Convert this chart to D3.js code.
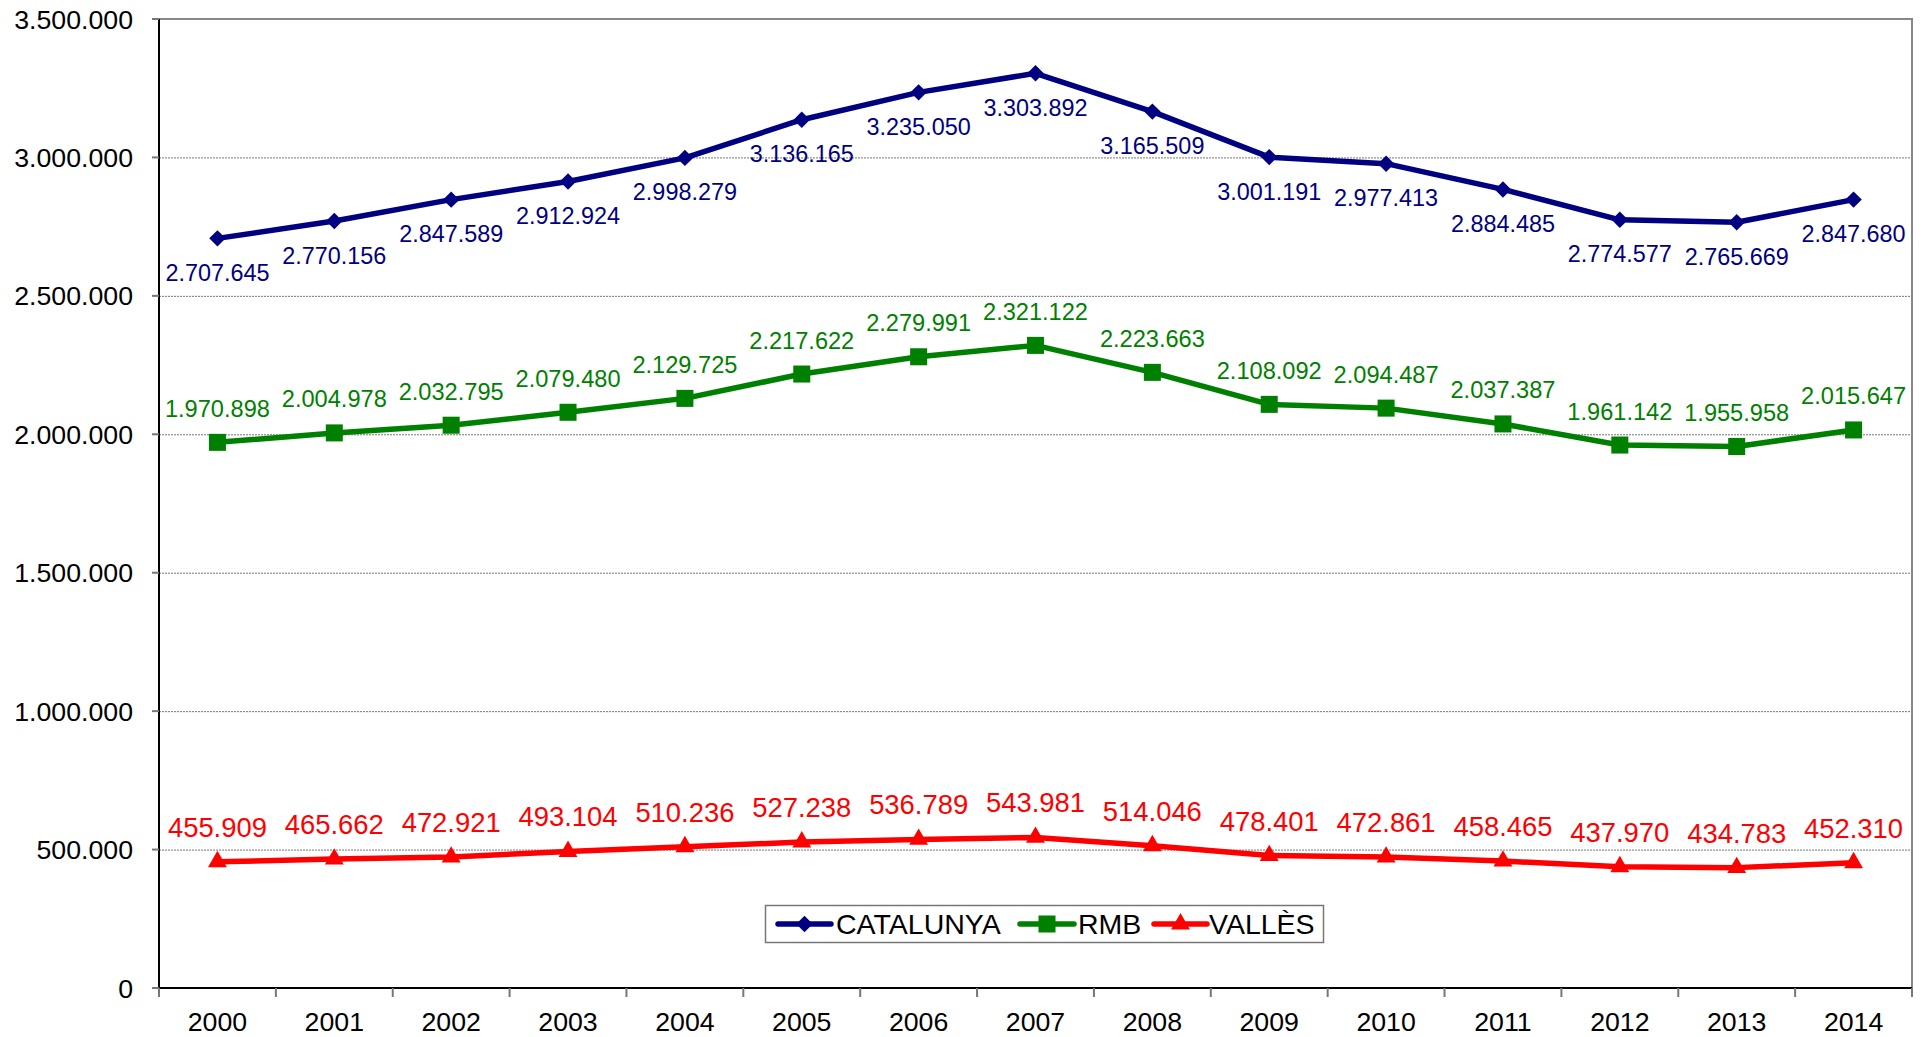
<!DOCTYPE html>
<html>
<head>
<meta charset="utf-8">
<script src="https://cdn.jsdelivr.net/npm/d3@7"></script>
<style>
  body { margin: 0; background: #fff; }
  text { font-family: "Liberation Sans", Arial, sans-serif; }
</style>
</head>
<body>
<svg id="chart" width="1928" height="1037"></svg>
<script>
const years = ["2000", "2001", "2002", "2003", "2004", "2005", "2006", "2007",
    "2008", "2009", "2010", "2011", "2012", "2013", "2014"]

const catalunya = [2707645, 2770156, 2847589, 2912924, 2998279, 3136165, 3235050, 3303892,
    3165509, 3001191, 2977413, 2884485, 2774577, 2765669, 2847680]
const rmb = [1970898, 2004978, 2032795, 2079480, 2129725, 2217622, 2279991, 2321122,
    2223663, 2108092, 2094487, 2037387, 1961142, 1955958, 2015647]
const valles = [455909, 465662, 472921, 493104, 510236, 527238, 536789, 543981,
    514046, 478401, 472861, 458465, 437970, 434783, 452310]

const yTicks = [0, 500000, 1000000, 1500000, 2000000, 2500000, 3000000, 3500000]

const seriesNames = ["CATALUNYA", "RMB", "VALLÈS"]

const series = [
    { name: seriesNames[0], values: catalunya, color: "#000080", marker: "diamond", labelDy: 42.5, labelSize: 23.4 },
    { name: seriesNames[1], values: rmb, color: "#008000", marker: "square", labelDy: -25.5, labelSize: 23.6 },
    { name: seriesNames[2], values: valles, color: "#ff0000", marker: "triangle", labelDy: -25, labelSize: 27.4 }
]

const plotLeft = 159, plotRight = 1912, plotTop = 19, plotBottom = 988

const locale = d3.formatLocale({ decimal: ",", thousands: ".", grouping: [3], currency: ["", "€"] })
const fmt = locale.format(",d")

const svg = d3.select("#chart")

const x = d3.scaleBand()
    .domain(years)
    .range([plotLeft, plotRight])

const y = d3.scaleLinear()
    .domain([0, 3500000])
    .range([plotBottom, plotTop])

// gridlines
svg.append("g")
    .selectAll("line")
    .data(yTicks.filter(d => d > 0 && d < 3500000))
    .join("line")
    .attr("x1", plotLeft).attr("x2", plotRight)
    .attr("y1", d => y(d) + 0.5).attr("y2", d => y(d) + 0.5)
    .attr("stroke", "#777")
    .attr("stroke-width", 1)
    .attr("stroke-dasharray", "2,1")

// top and right border
svg.append("path")
    .attr("d", `M${plotLeft},${plotTop} H${plotRight} V${plotBottom}`)
    .attr("fill", "none")
    .attr("stroke", "#888")
    .attr("stroke-width", 2)

// y axis
const yAxis = svg.append("g")
yAxis.append("line")
    .attr("x1", plotLeft).attr("x2", plotLeft)
    .attr("y1", plotTop).attr("y2", plotBottom)
    .attr("stroke", "#000").attr("stroke-width", 2)
yAxis.selectAll(".tick")
    .data(yTicks)
    .join("line")
    .attr("class", "tick")
    .attr("x1", plotLeft - 7).attr("x2", plotLeft)
    .attr("y1", d => y(d)).attr("y2", d => y(d))
    .attr("stroke", "#777").attr("stroke-width", 2)
yAxis.selectAll("text")
    .data(yTicks)
    .join("text")
    .attr("x", 133)
    .attr("y", d => y(d) + 9.5)
    .attr("text-anchor", "end")
    .attr("font-size", 26.7)
    .attr("fill", "#000")
    .text(d => fmt(d))

// x axis
const xAxis = svg.append("g")
xAxis.append("line")
    .attr("x1", plotLeft).attr("x2", plotRight)
    .attr("y1", plotBottom).attr("y2", plotBottom)
    .attr("stroke", "#000").attr("stroke-width", 2)
xAxis.selectAll(".tick")
    .data(d3.range(years.length + 1))
    .join("line")
    .attr("class", "tick")
    .attr("x1", i => plotLeft + i * x.step()).attr("x2", i => plotLeft + i * x.step())
    .attr("y1", plotBottom).attr("y2", plotBottom + 9)
    .attr("stroke", "#777").attr("stroke-width", 2)
xAxis.selectAll("text")
    .data(years)
    .join("text")
    .attr("x", d => x(d) + x.bandwidth() / 2)
    .attr("y", 1031)
    .attr("text-anchor", "middle")
    .attr("font-size", 26.7)
    .attr("fill", "#000")
    .text(d => d)

function markerPath(type) {
    if (type === "diamond") return d3.symbol(d3.symbolSquare, 135)()
    if (type === "square") return d3.symbol(d3.symbolSquare, 290)()
    return d3.symbol(d3.symbolTriangle, 155)()
}

const line = d3.line()
    .x((d, i) => x(years[i]) + x.bandwidth() / 2)
    .y(d => y(d))

series.forEach(s => {
    const g = svg.append("g")
    g.append("path")
        .datum(s.values)
        .attr("d", line)
        .attr("fill", "none")
        .attr("stroke", s.color)
        .attr("stroke-width", 5.5)
        .attr("stroke-linejoin", "round")

    g.selectAll(".marker")
        .data(s.values)
        .join("path")
        .attr("class", "marker")
        .attr("d", markerPath(s.marker))
        .attr("transform", (d, i) => `translate(${x(years[i]) + x.bandwidth() / 2},${y(d)})` +
            (s.marker === "diamond" ? " rotate(45)" : ""))
        .attr("fill", s.color)

    g.selectAll(".label")
        .data(s.values)
        .join("text")
        .attr("class", "label")
        .attr("x", (d, i) => x(years[i]) + x.bandwidth() / 2)
        .attr("y", d => y(d) + s.labelDy)
        .attr("text-anchor", "middle")
        .attr("font-size", s.labelSize)
        .attr("fill", s.color)
        .text(d => fmt(d))
})

// legend
const legend = svg.append("g")
legend.append("rect")
    .attr("x", 765.5).attr("y", 905.5)
    .attr("width", 558).attr("height", 37)
    .attr("fill", "#fff")
    .attr("stroke", "#777")
    .attr("stroke-width", 1.5)

const legendItems = [
    { x0: 778, x1: 831, tx: 836 },
    { x0: 1020, x1: 1074, tx: 1078 },
    { x0: 1154, x1: 1207, tx: 1209 }
]
series.forEach((s, i) => {
    const it = legendItems[i]
    const cy = 924
    legend.append("line")
        .attr("x1", it.x0).attr("x2", it.x1)
        .attr("y1", cy).attr("y2", cy)
        .attr("stroke", s.color)
        .attr("stroke-width", 5.5)
        .attr("stroke-linecap", "round")
    legend.append("path")
        .attr("d", markerPath(s.marker))
        .attr("transform", `translate(${(it.x0 + it.x1) / 2},${cy})` + (s.marker === "diamond" ? " rotate(45)" : ""))
        .attr("fill", s.color)
    legend.append("text")
        .attr("x", it.tx)
        .attr("y", cy + 10)
        .attr("font-size", 28.5)
        .attr("fill", "#000")
        .text(s.name)
})
</script>
</body>
</html>
